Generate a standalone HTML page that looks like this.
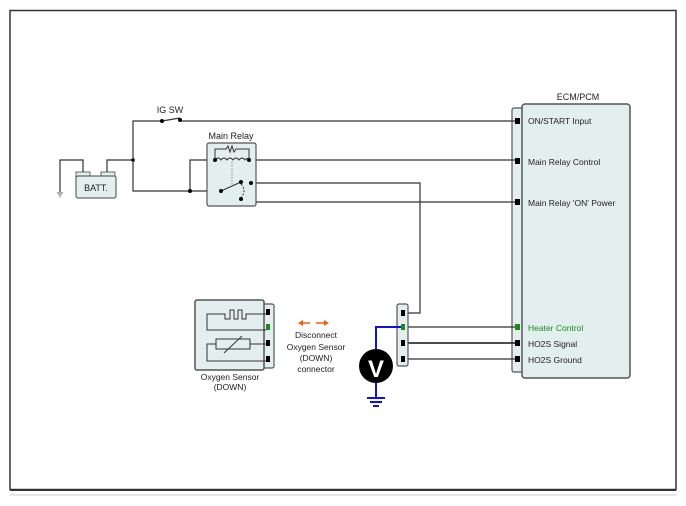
<!DOCTYPE html>
<html><head><meta charset="utf-8"><style>
html,body{margin:0;padding:0;background:#fff;}
svg{display:block;font-family:"Liberation Sans",sans-serif;}
</style></head><body>
<svg width="686" height="506" viewBox="0 0 686 506" xmlns="http://www.w3.org/2000/svg">
<rect x="10" y="10.5" width="666" height="479" fill="none" stroke="#333" stroke-width="1.5"/>
<line x1="10" y1="490" x2="676" y2="490" stroke="#333" stroke-width="2"/>
<line x1="10" y1="495" x2="676" y2="495" stroke="#ccc" stroke-width="1"/>

<!-- ECM -->
<rect x="512" y="108" width="12" height="264" rx="2" fill="#e3eeee" stroke="#555" stroke-width="1.2"/>
<rect x="522" y="104" width="108" height="274" rx="3" fill="#e3eeee" stroke="#555" stroke-width="1.5"/>
<text x="578" y="100" font-size="9" text-anchor="middle" fill="#222">ECM/PCM</text>
<g font-size="8.5" fill="#222">
<text x="528" y="124">ON/START Input</text>
<text x="528" y="165">Main Relay Control</text>
<text x="528" y="206">Main Relay 'ON' Power</text>
<text x="528" y="331" fill="#1a8a1a">Heater Control</text>
<text x="528" y="347">HO2S Signal</text>
<text x="528" y="363">HO2S Ground</text>
</g>
<g fill="#000">
<rect x="515" y="118" width="5" height="6"/><rect x="515" y="158" width="5" height="6"/><rect x="515" y="199" width="5" height="6"/>
<rect x="515" y="340" width="5" height="6"/><rect x="515" y="356" width="5" height="6"/>
</g>
<rect x="515" y="324" width="5" height="6" fill="#1a8a1a"/>

<!-- wires -->
<g stroke="#333" stroke-width="1.2" fill="none">
<polyline points="180,121 515,121"/>
<polyline points="162,121 133,121 133,191 221,191"/>
<polyline points="133,160 107,160 107,172"/>
<polyline points="83,172 83,160 60,160 60,192"/>
<polyline points="190,191 190,160 215,160"/>
<polyline points="249,160 515,160"/>
<polyline points="250,183 420,183 420,313 403,313"/>
<polyline points="250,183 250,202 515,202"/>
<polyline points="403,327 515,327"/>
<polyline points="403,343 515,343" stroke-width="1.8"/>
<polyline points="403,359 515,359"/>
</g>
<!-- IG SW -->
<text x="170" y="113" font-size="9" text-anchor="middle" fill="#222">IG SW</text>
<line x1="162" y1="121" x2="180" y2="118" stroke="#333" stroke-width="1.2"/>
<g fill="#000"><circle cx="162" cy="121" r="2"/><circle cx="180" cy="120" r="2"/><circle cx="133" cy="160" r="1.8"/><circle cx="190" cy="191" r="2"/></g>
<!-- ground battery -->
<g stroke="#333" stroke-width="0.8"><line x1="57" y1="193" x2="63" y2="193"/><line x1="58.5" y1="195" x2="61.5" y2="195"/><line x1="59.5" y1="197" x2="60.5" y2="197"/></g>
<!-- battery -->
<rect x="76" y="172" width="14" height="5" fill="#e3eeee" stroke="#444" stroke-width="0.8"/>
<rect x="101" y="172" width="14" height="5" fill="#e3eeee" stroke="#444" stroke-width="0.8"/>
<rect x="76" y="176" width="40" height="22" rx="2" fill="#e3eeee" stroke="#444" stroke-width="1"/>
<text x="96" y="191" font-size="9" text-anchor="middle" fill="#222">BATT.</text>
<!-- relay -->
<text x="231" y="139" font-size="9" text-anchor="middle" fill="#222">Main Relay</text>
<rect x="207" y="143" width="49" height="63" rx="2" fill="#e3eeee" stroke="#555" stroke-width="1.2"/>
<g stroke="#333" stroke-width="1" fill="none">
<polyline points="215,160 215,149 226,149 228,146 230,152 232,146 234,152 236,149 249,149 249,160"/>
<path d="M215,160 q3,-4 6,0 q3,-4 6,0 q3,-4 6,0 q3,-4 6,0 q3,-4 6,0 q2,-3 4,0"/>
<line x1="232" y1="162" x2="232" y2="186" stroke-dasharray="1.5,1.5" stroke="#888"/>
<line x1="221" y1="191" x2="241" y2="182"/>
<path d="M241,184 q6,6 0,14" stroke-dasharray="2,1.5"/>
</g>
<g fill="#000"><circle cx="215" cy="160" r="2"/><circle cx="249" cy="160" r="2"/><circle cx="221" cy="191" r="2"/><circle cx="241" cy="182" r="2"/><circle cx="251" cy="183" r="2"/><circle cx="241" cy="199" r="2"/></g>

<!-- oxygen sensor -->
<rect x="262" y="304" width="12" height="64" rx="2" fill="#e3eeee" stroke="#555" stroke-width="1.2"/>
<rect x="195" y="300" width="69" height="70" rx="2" fill="#e3eeee" stroke="#555" stroke-width="1.5"/>
<g stroke="#333" stroke-width="1" fill="none">
<polyline points="266,314 246,314 246,319 242,319 242,310 238,310 238,319 234,319 234,310 230,310 230,319 225,319 225,314 207,314 207,330 266,330"/>
<rect x="216" y="339" width="34" height="10"/>
<line x1="224" y1="353" x2="242" y2="336"/>
<polyline points="266,344 250,344"/>
<polyline points="216,344 207,344 207,361 266,361"/>
</g>
<g fill="#000"><rect x="266" y="309" width="4" height="6"/><rect x="266" y="340" width="4" height="6"/><rect x="266" y="356" width="4" height="6"/></g>
<rect x="266" y="324" width="4" height="6" fill="#1a8a1a"/>
<text x="230" y="380" font-size="8.5" text-anchor="middle" fill="#222">Oxygen Sensor</text>
<text x="230" y="390" font-size="8.5" text-anchor="middle" fill="#222">(DOWN)</text>
<!-- orange arrows -->
<g stroke="#f06010" stroke-width="1.5" fill="#f06010">
<line x1="301" y1="323" x2="310" y2="323"/><polygon points="298,323 303,320 303,326" stroke="none"/>
<line x1="316" y1="323" x2="326" y2="323"/><polygon points="329,323 324,320 324,326" stroke="none"/>
</g>
<g font-size="8.5" text-anchor="middle" fill="#222">
<text x="316" y="338">Disconnect</text><text x="316" y="350">Oxygen Sensor</text><text x="316" y="361">(DOWN)</text><text x="316" y="372">connector</text>
</g>
<!-- connector right -->
<rect x="397" y="304" width="11" height="62" rx="2" fill="#e3eeee" stroke="#555" stroke-width="1.2"/>
<g fill="#000"><rect x="401" y="310" width="4" height="6"/><rect x="401" y="340" width="4" height="6"/><rect x="401" y="356" width="4" height="6"/></g>
<rect x="401" y="324" width="4" height="6" fill="#1a8a1a"/>
<!-- voltmeter -->
<g stroke="#1010e0" stroke-width="2" fill="none">
<polyline points="401,327 376,327 376,350"/>
<line x1="376" y1="382" x2="376" y2="398"/>
<line x1="367" y1="398" x2="385" y2="398"/><line x1="370" y1="402" x2="382" y2="402"/><line x1="373" y1="406" x2="379" y2="406"/>
</g>
<circle cx="376" cy="366" r="17" fill="#000"/>
<text x="376" y="377" font-size="24" font-weight="bold" text-anchor="middle" fill="#fff">V</text>
</svg>
</body></html>
